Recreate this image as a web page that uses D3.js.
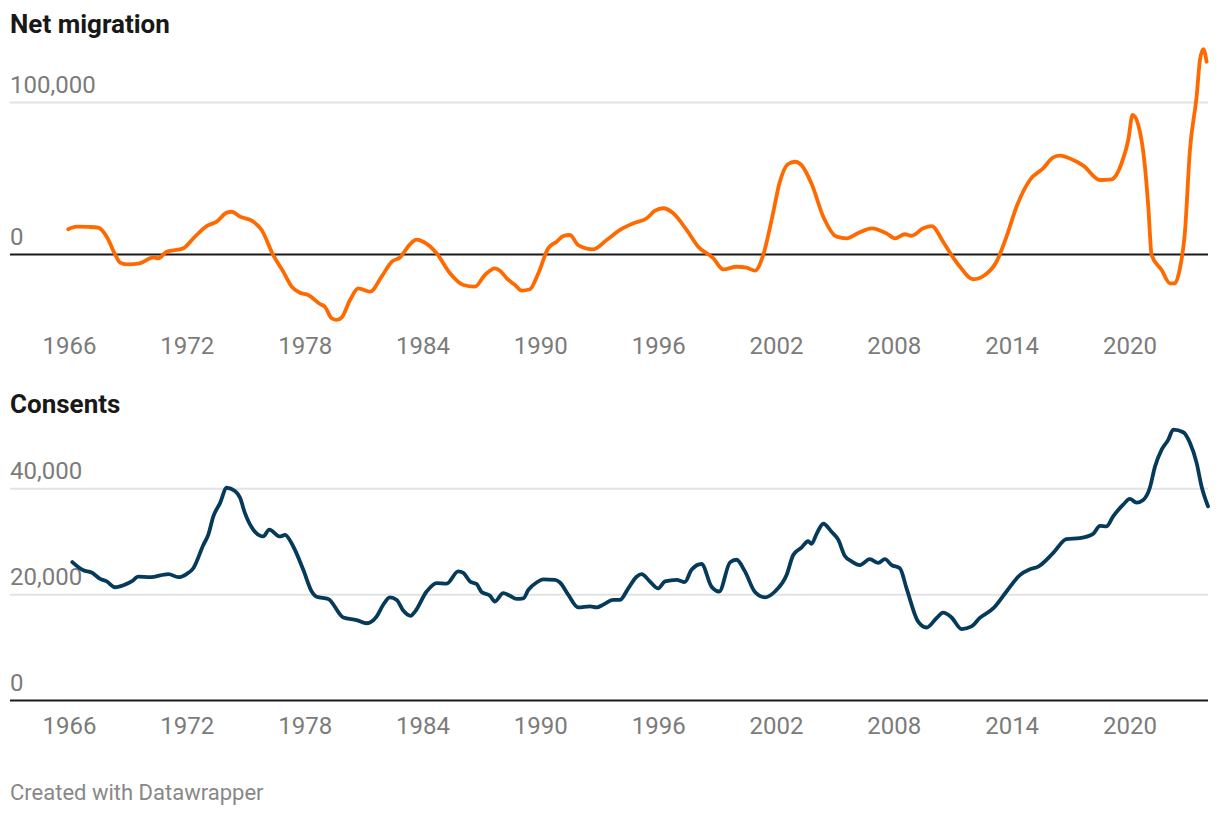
<!DOCTYPE html>
<html>
<head>
<meta charset="utf-8">
<script src="https://cdn.jsdelivr.net/npm/d3@7"></script>
<style>
  html, body { margin: 0; padding: 0; background: #ffffff; }
  svg { display: block; font-family: Roboto, "Noto Sans", sans-serif; }
</style>
</head>
<body>
<svg id="chart" width="1220" height="816"></svg>
<script>
// ---- Data ----
const xTickYears = [1966, 1972, 1978, 1984, 1990, 1996, 2002, 2008, 2014, 2020];
const migTicks = [0, 100000];
const consTicks = [0, 20000, 40000];

const migYears = [1965.96,1966.39,1967.0,1967.49,1967.92,1968.34,1968.6,1968.94,1969.6,1970.3,1970.55,1970.97,1971.82,1972.33,1973.01,1973.52,1974.03,1974.28,1974.71,1975.38,1975.81,1976.4,1976.91,1977.34,1977.76,1978.18,1978.78,1979.03,1979.38,1979.63,1979.89,1980.31,1980.73,1981.33,1981.92,1982.43,1982.85,1983.36,1983.7,1984.04,1984.72,1985.4,1986.08,1986.67,1987.18,1987.69,1987.95,1988.29,1988.71,1989.05,1989.47,1989.9,1990.4,1990.83,1991.17,1991.51,1991.93,1992.7,1993.38,1994.06,1994.74,1995.42,1995.84,1996.26,1996.77,1997.45,1998.04,1998.81,1999.31,1999.99,2000.5,2000.93,2001.35,2001.78,2002.2,2002.62,2002.97,2003.3,2003.82,2004.41,2005.09,2005.6,2006.27,2006.87,2007.63,2008.06,2008.56,2008.9,2009.5,2009.93,2010.51,2010.94,2011.37,2012.04,2012.64,2013.23,2013.74,2014.25,2014.93,2015.61,2016.12,2016.46,2017.14,2017.65,2018.5,2019.09,2019.6,2019.94,2020.16,2020.45,2020.79,2020.96,2021.13,2021.64,2022.06,2022.31,2022.57,2022.82,2023.08,2023.42,2023.59,2023.76,2023.93];
const migValues = [16300,18000,17800,17300,11400,0,-5700,-6800,-6100,-2200,-2800,1500,3700,10300,18400,21300,27200,27800,24600,21300,15800,-700,-11600,-21500,-25500,-27000,-32900,-34700,-42300,-43400,-41700,-30300,-22600,-24800,-14900,-5100,-2300,6300,9400,8100,500,-12700,-20400,-21500,-13800,-9400,-11000,-16000,-20400,-24100,-23200,-12700,3700,8100,11800,12500,5900,3100,9200,15800,20200,23500,28500,30100,26800,15800,4800,-2800,-10100,-8400,-9000,-11000,-700,22400,47600,59200,60700,58500,46000,24500,11400,10300,14300,16900,13600,10300,13000,12000,16900,18400,8100,-700,-8400,-16600,-13800,-5100,11400,31100,48700,56400,63600,64700,61800,58100,48700,49100,59700,75000,91500,84900,57400,31100,-700,-10500,-19300,-19300,-9400,13600,68400,103500,127600,134700,126500];

const consYears = [1966.17,1966.73,1967.15,1967.58,1967.92,1968.34,1968.85,1969.19,1969.53,1970.12,1971.06,1971.57,1971.99,1972.33,1972.84,1973.09,1973.35,1973.69,1974.03,1974.45,1974.71,1974.96,1975.38,1975.89,1976.2,1976.74,1977.0,1977.42,1977.93,1978.36,1978.61,1979.2,1979.97,1980.65,1981.16,1981.67,1982.0,1982.34,1982.69,1983.02,1983.4,1983.62,1984.21,1984.72,1985.23,1985.82,1986.08,1986.42,1986.76,1987.01,1987.44,1987.69,1988.11,1988.45,1988.79,1989.13,1989.39,1989.81,1990.15,1990.75,1991.0,1991.42,1991.93,1992.53,1992.87,1993.2,1993.71,1994.05,1994.48,1994.9,1995.16,1995.58,1996.0,1996.35,1996.94,1997.36,1997.7,1998.21,1998.72,1999.11,1999.66,1999.99,2000.42,2000.93,2001.44,2001.95,2002.54,2002.88,2003.3,2003.64,2003.81,2004.07,2004.41,2004.83,2005.17,2005.51,2005.85,2006.27,2006.78,2007.21,2007.55,2007.89,2008.31,2008.65,2009.24,2009.67,2010.18,2010.51,2010.94,2011.45,2011.96,2012.38,2013.06,2013.74,2014.42,2014.93,2015.35,2016.12,2016.79,2017.47,2018.15,2018.5,2018.83,2019.17,2019.68,2020.02,2020.36,2020.7,2021.04,2021.3,2021.64,2021.98,2022.23,2022.74,2023.08,2023.42,2023.67,2024.0];
const consValues = [26050,24500,24100,22900,22400,21300,21800,22400,23300,23200,23800,23200,23800,24900,29300,31200,34700,37200,40100,39500,38200,35300,32200,30900,32200,30900,31200,29000,24600,20500,19500,19100,15600,15100,14500,15800,18000,19400,18900,16900,15900,16700,20500,22100,22000,24300,24000,22400,21900,20400,19700,18600,20200,19700,19100,19200,20800,22200,22800,22700,22200,19900,17500,17700,17500,18000,18900,18900,21100,23300,23800,22400,21100,22400,22700,22300,24600,25700,21400,20500,26000,26500,24300,20400,19400,20500,23600,27400,28800,30000,29500,31400,33300,31800,30300,27200,26200,25500,26600,25900,26600,25500,24900,21100,14800,13700,15500,16500,15600,13400,13900,15500,17300,20500,23600,24700,25200,27800,30400,30600,31400,32900,32800,34700,36900,38000,37300,37800,40100,44100,47300,49200,51100,50600,48600,44800,40400,36600];

// ---- Layout ----
const svg = d3.select("#chart");
const left = 10, right = 1208;
const labelColor = "#7b7b7b";
const fontSize = 24;

const x = d3.scaleLinear().domain([1966, 2024]).range([69, 1208]);

function panel(opts) {
  const g = svg.append("g");
  const y = d3.scaleLinear().domain(opts.yDomain).range(opts.yRange);

  // title
  g.append("text")
    .attr("x", left).attr("y", opts.titleY)
    .attr("font-size", 26).attr("font-weight", 700)
    .attr("fill", "#181818")
    .text(opts.title);

  // y grid + labels via axis
  const yAxis = d3.axisRight(y)
    .tickValues(opts.ticks)
    .tickSize(right - left)
    .tickFormat(d3.format(","));
  const ya = g.append("g").attr("transform", `translate(${left},0)`).call(yAxis);
  ya.select(".domain").remove();
  ya.selectAll(".tick line")
    .attr("stroke", d => d === 0 ? "#1a1a1a" : "#e3e3e3")
    .attr("stroke-width", 2);
  ya.selectAll(".tick text")
    .attr("x", 0).attr("dy", null).attr("y", -10)
    .attr("text-anchor", "start")
    .attr("font-size", fontSize)
    .attr("font-family", "Roboto, sans-serif")
    .attr("fill", labelColor);
  ya.selectAll(".tick").filter(d => d === 0).raise();

  // line
  const line = d3.line()
    .x((d, i) => x(opts.years[i]))
    .y(d => y(d))
    .curve(d3.curveMonotoneX);
  g.append("path")
    .datum(opts.values)
    .attr("fill", "none")
    .attr("stroke", opts.color)
    .attr("stroke-width", 3.8)
    .attr("stroke-linejoin", "round")
    .attr("stroke-linecap", "round")
    .attr("d", line);

  // x axis
  const xAxis = d3.axisBottom(x)
    .tickValues(xTickYears)
    .tickSize(0)
    .tickFormat(d3.format("d"));
  const xa = g.append("g").attr("transform", `translate(0,${opts.xLabelY})`).call(xAxis);
  xa.select(".domain").remove();
  xa.selectAll(".tick text")
    .attr("y", 0).attr("dy", null)
    .attr("font-size", fontSize)
    .attr("font-family", "Roboto, sans-serif")
    .attr("fill", labelColor);
}

panel({
  title: "Net migration", titleY: 33,
  yDomain: [0, 100000], yRange: [254, 102],
  ticks: migTicks,
  years: migYears, values: migValues,
  color: "#ff6a00",
  xLabelY: 354
});

panel({
  title: "Consents", titleY: 413,
  yDomain: [0, 40000], yRange: [700, 488.3],
  ticks: consTicks,
  years: consYears, values: consValues,
  color: "#063a5a",
  xLabelY: 734
});

svg.append("text")
  .attr("x", left).attr("y", 800)
  .attr("font-size", 22)
  .attr("fill", "#888888")
  .text("Created with Datawrapper");
</script>
</body>
</html>
